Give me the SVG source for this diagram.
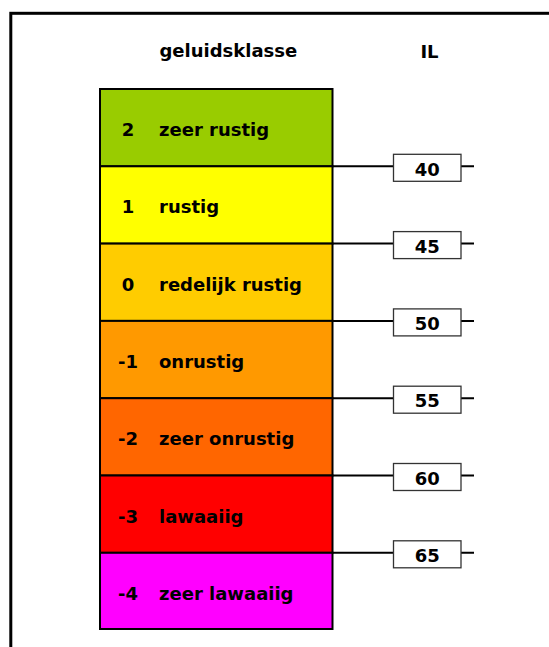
<svg xmlns="http://www.w3.org/2000/svg" width="549" height="647" viewBox="0 0 549 647">
<style>
text{font-family:"DejaVu Sans","Liberation Sans",sans-serif;font-weight:bold;font-size:18px;fill:#000}
.num{text-anchor:middle}
.band{stroke:#000;stroke-width:2}
.conn{stroke:#000;stroke-width:2;fill:none}
.box rect{fill:#fff;stroke:#333;stroke-width:1.3}
.box text{text-anchor:middle}
</style>
<rect x="10.8" y="13.3" width="600" height="700" fill="#fff" stroke="#000" stroke-width="3"/>
<text x="228.3" y="57" class="num">geluidsklasse</text>
<text x="429.5" y="58" class="num">IL</text>
<g id="klasse2"><rect class="band" x="100" y="89" width="232.5" height="77.3" fill="#99CC00"/><text x="128" y="136" class="num">2</text><text x="159" y="136">zeer rustig</text></g>
<g id="klasse1"><rect class="band" x="100" y="166.3" width="232.5" height="77.3" fill="#FFFF00"/><text x="128" y="213.3" class="num">1</text><text x="159" y="213.3">rustig</text></g>
<g id="klasse0"><rect class="band" x="100" y="243.6" width="232.5" height="77.3" fill="#FFCC00"/><text x="128" y="290.6" class="num">0</text><text x="159" y="290.6">redelijk rustig</text></g>
<g id="klasse-1"><rect class="band" x="100" y="320.9" width="232.5" height="77.3" fill="#FF9900"/><text x="128" y="367.9" class="num">-1</text><text x="159" y="367.9">onrustig</text></g>
<g id="klasse-2"><rect class="band" x="100" y="398.2" width="232.5" height="77.3" fill="#FF6600"/><text x="128" y="445.2" class="num">-2</text><text x="159" y="445.2">zeer onrustig</text></g>
<g id="klasse-3"><rect class="band" x="100" y="475.5" width="232.5" height="77.3" fill="#FF0000"/><text x="128" y="522.5" class="num">-3</text><text x="159" y="522.5">lawaaiig</text></g>
<g id="klasse-4"><rect class="band" x="100" y="552.8" width="232.5" height="76.2" fill="#FF00FF"/><text x="128" y="599.8" class="num">-4</text><text x="159" y="599.8">zeer lawaaiig</text></g>
<g id="connectors" class="conn">
<path d="M333 166.3H393M461 166.3H474"/>
<path d="M333 243.6H393M461 243.6H474"/>
<path d="M333 320.9H393M461 320.9H474"/>
<path d="M333 398.2H393M461 398.2H474"/>
<path d="M333 475.5H393M461 475.5H474"/>
<path d="M333 552.8H393M461 552.8H474"/>
</g>
<g id="il40" class="box"><rect x="393.5" y="154.3" width="67.5" height="27"/><text x="427.3" y="175.5">40</text></g>
<g id="il45" class="box"><rect x="393.5" y="231.6" width="67.5" height="27"/><text x="427.3" y="252.8">45</text></g>
<g id="il50" class="box"><rect x="393.5" y="308.9" width="67.5" height="27"/><text x="427.3" y="330.1">50</text></g>
<g id="il55" class="box"><rect x="393.5" y="386.2" width="67.5" height="27"/><text x="427.3" y="407.4">55</text></g>
<g id="il60" class="box"><rect x="393.5" y="463.5" width="67.5" height="27"/><text x="427.3" y="484.7">60</text></g>
<g id="il65" class="box"><rect x="393.5" y="540.8" width="67.5" height="27"/><text x="427.3" y="562">65</text></g>
</svg>
